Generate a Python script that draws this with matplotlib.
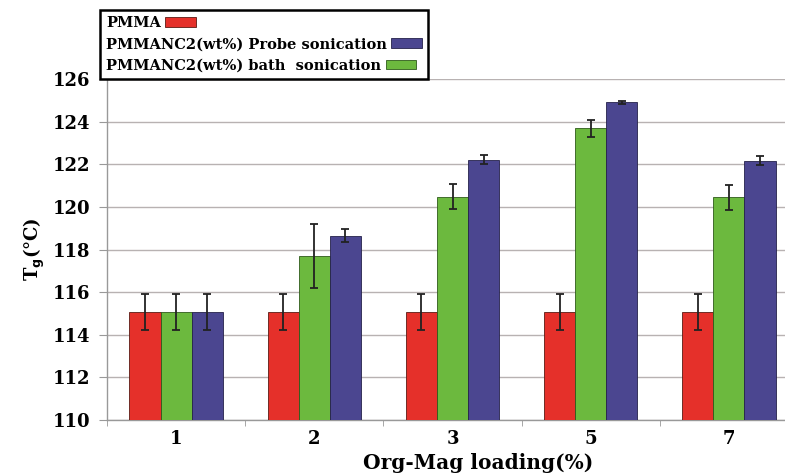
import matplotlib
matplotlib.use("Agg")
import matplotlib.pyplot as plt
import numpy as np

categories = ["1", "2", "3", "5", "7"]
pmma = [115.07, 115.07, 115.07, 115.07, 115.07]
pmma_err = [0.83, 0.83, 0.83, 0.83, 0.83]
bath = [115.07, 117.71, 120.48, 123.68, 120.44]
bath_err = [0.83, 1.5, 0.6, 0.4, 0.6]
probe = [115.07, 118.64, 122.22, 124.9, 122.17]
probe_err = [0.83, 0.3, 0.2, 0.05, 0.2]

labels = ["PMMA", "PMMANC2(wt%) Probe sonication", "PMMANC2(wt%) bath  sonication"]
c_red, c_green, c_blue = "#e5302a", "#6cb93e", "#4b4690"

plt.rcParams['font.family'] = ['DejaVu Serif']
plt.rcParams['font.weight'] = 'bold'

fig = plt.figure(figsize=(7.85, 4.73), dpi=100)
ax = fig.add_axes([107/785, 1-420/473, 691/785, 341/473])

x = np.arange(len(categories))
w = 0.225
ek = dict(ecolor="#222222", elinewidth=1.3, capsize=3, capthick=1.3)
b1 = ax.bar(x - w, np.array(pmma) - 110, w, bottom=110, color=c_red, edgecolor="#5a1a14", linewidth=0.6,
            yerr=pmma_err, error_kw=ek, label=labels[0], zorder=3)
b3 = ax.bar(x, np.array(bath) - 110, w, bottom=110, color=c_green, edgecolor="#2e5a1a", linewidth=0.6,
            yerr=bath_err, error_kw=ek, label=labels[2], zorder=3)
b2 = ax.bar(x + w, np.array(probe) - 110, w, bottom=110, color=c_blue, edgecolor="#25224a", linewidth=0.6,
            yerr=probe_err, error_kw=ek, label=labels[1], zorder=3)

ax.set_ylim(110, 126)
ax.set_yticks(np.arange(110, 127, 2))
ax.set_xlim(-0.5, len(categories) - 0.5)
ax.set_xticks(x)
ax.set_xticklabels(categories)
ax.set_xticks(np.arange(-0.5, len(categories)), minor=True)
ax.tick_params(axis='x', which='major', length=0, pad=7, labelsize=13)
ax.tick_params(axis='x', which='minor', length=4, color="#999999", direction='out')
ax.tick_params(axis='y', length=6, color="#999999", labelsize=13, pad=6)
ax.yaxis.grid(True, color="#b8b2b2", linewidth=1.0, zorder=0)
ax.set_axisbelow(True)
for s in ['top', 'right']:
    ax.spines[s].set_visible(False)
for s in ['left', 'bottom']:
    ax.spines[s].set_color("#999999")
    ax.spines[s].set_linewidth(1.0)

ax.set_ylabel(r"T$_\mathbf{g}$(°C)", fontsize=13, fontweight='bold', labelpad=4)
fig.text(478/785, 1-463/473, "Org-Mag loading(%)", ha='center', va='center', fontsize=14.5, fontweight='bold')

leg = fig.legend([b1, b2, b3], labels, loc='upper left', bbox_to_anchor=(100/785, 1-10/473),
                 markerfirst=False, fancybox=False, framealpha=1, edgecolor='black',
                 fontsize=10.5, handlelength=2.1, handleheight=0.65, labelspacing=0.5,
                 borderpad=0.42, handletextpad=0.3, borderaxespad=0)
leg.get_frame().set_linewidth(1.8)
for col in leg._legend_handle_box.get_children():
    col.align = 'left'
for t in leg.get_texts():
    t.set_fontweight('bold')

fig.savefig("out.png", dpi=100)
